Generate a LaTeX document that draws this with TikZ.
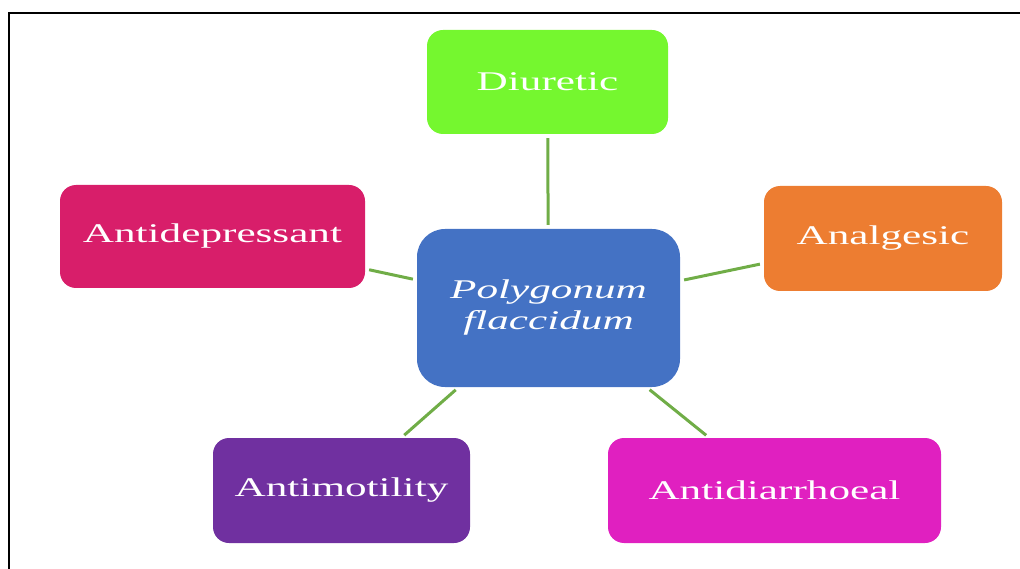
\documentclass[tikz,border=0pt]{standalone}
\usepackage{fontspec}
\setmainfont{Liberation Serif}
\newfontfamily\widefont[FakeStretch=1.6]{Liberation Serif}
\definecolor{cgreen}{RGB}{117,247,47}
\definecolor{ccrimson}{RGB}{216,30,106}
\definecolor{corange}{RGB}{237,125,49}
\definecolor{cblue}{RGB}{68,114,196}
\definecolor{cpurple}{RGB}{112,48,160}
\definecolor{cmagenta}{RGB}{224,32,192}
\definecolor{clink}{RGB}{112,173,71}
\tikzset{
  box/.style={rectangle, rounded corners=16pt, draw=none, text=white, align=center,
    font=\widefont\fontsize{27}{31}\selectfont, inner sep=0pt},
  link/.style={draw=clink, line width=3pt, shorten <=4pt, shorten >=4pt},
  frame/.style={line width=2pt, draw=black}
}
\begin{document}
\begin{tikzpicture}[x=1pt,y=-1pt]
\useasboundingbox (0,0) rectangle (1020,569);
\coordinate (ftop) at (1020,13);
\coordinate (fcorner) at (9,13);
\coordinate (fbot) at (9,569);
\draw[frame] (ftop) -- (fcorner) -- (fbot);

\node[box, fill=cblue, rounded corners=28pt, minimum width=263pt, minimum height=158pt,
  font=\widefont\itshape\fontsize{27}{31}\selectfont] (c) at (548.5,308) {Polygonum\\flaccidum};
\node[box, fill=cgreen, minimum width=241pt, minimum height=104pt] (d) at (547.5,82) {Diuretic};
\node[box, fill=ccrimson, minimum width=305pt, minimum height=103pt] (ad) at (212.5,236.5) {Antidepressant};
\node[box, fill=corange, minimum width=238pt, minimum height=105pt] (an) at (883,238.5) {Analgesic};
\node[box, fill=cpurple, minimum width=257pt, minimum height=105pt] (am) at (341.5,490.5) {Antimotility};
\node[box, fill=cmagenta, minimum width=333pt, minimum height=105pt] (dia) at (774.5,490.5) {Antidiarrhoeal};

\draw[link] (d) -- (c);
\draw[link] (ad) -- (c);
\draw[link] (an) -- (c);
\draw[link] (am) -- (c);
\draw[link] (dia) -- (c);
\end{tikzpicture}
\end{document}
